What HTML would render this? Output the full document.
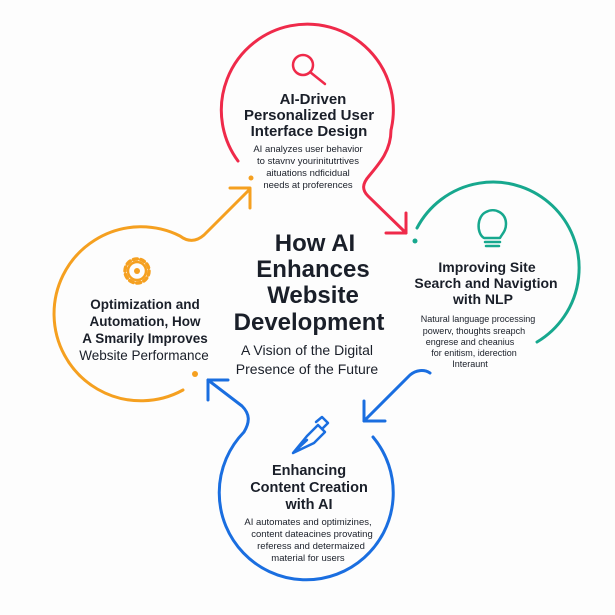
<!DOCTYPE html>
<html><head><meta charset="utf-8"><style>
body{margin:0;background:#fdfdfd;}
svg{display:block;font-family:"Liberation Sans","DejaVu Sans",sans-serif;}
</style></head><body>
<svg width="615" height="615" viewBox="0 0 615 615" xmlns="http://www.w3.org/2000/svg">
<rect width="615" height="615" fill="#fdfdfd"/>
<g fill="none" stroke-width="3" stroke-linecap="round" stroke-linejoin="round">
<!-- red -->
<path d="M238,161 A86,86 0 1 1 391,130 C391,150 380,163 369,176 C362,184 362,190 368,196 L406,233" stroke="#ef2a4a"/>
<path d="M406,213 L406,233 L386,233" stroke="#ef2a4a"/>
<!-- teal -->
<path d="M417,228 A86,86 0 1 1 537,342" stroke="#17a88e"/>
<circle cx="415" cy="241" r="2.5" fill="#17a88e" stroke="none"/>
<!-- blue bottom -->
<path d="M373,437 A87,87 0 1 1 244,432 C250,422 250,414 242,406 L208,380" stroke="#1a6ee0"/>
<path d="M228,380 L208,380 L208,400" stroke="#1a6ee0"/>
<!-- blue top-right arrow -->
<path d="M430,373 C424,369 416,370 410,375 L364,421" stroke="#1a6ee0"/>
<path d="M364,401 L364,421 L385,421" stroke="#1a6ee0"/>
<!-- orange -->
<path d="M183,390 A87,87 0 1 1 180,236 C188,242 196,242 204,235 L250,189" stroke="#f5a020"/>
<path d="M230,188 L250,188 L250,208" stroke="#f5a020"/>
<circle cx="251" cy="178" r="2.5" fill="#f5a020" stroke="none"/>
<circle cx="195" cy="374" r="3" fill="#f5a020" stroke="none"/>
<!-- icons -->
<circle cx="303" cy="65" r="10" stroke="#ef2a4a" stroke-width="2.5"/>
<path d="M310,72 L325,84" stroke="#ef2a4a" stroke-width="2.5"/>
<path d="M484,238 C476,233 477,216 486,212 C495,207 506,213 506,224 C506,231 502,234 500,238 Z" stroke="#17a88e" stroke-width="2.5"/>
<path d="M485,242 H500 M486,246 H499" stroke="#17a88e" stroke-width="2.5"/>
<circle cx="137" cy="271" r="12" stroke="#f5a020" stroke-width="3.5" stroke-dasharray="4 3.5"/>
<circle cx="137" cy="271" r="9" stroke="#f5a020" stroke-width="2.5"/>
<circle cx="137" cy="271" r="3" fill="#f5a020" stroke="none"/>
<path d="M293,453 L307,436 L318,425 L325,432 L314,443 Z M293,453 L307,440" stroke="#1a6ee0" stroke-width="2.5"/>
<path d="M316,422 L322,417 L328,423 L323,428" stroke="#1a6ee0" stroke-width="2.5"/>
</g>
<g fill="#1a1f29" text-anchor="middle">
<g font-size="15" font-weight="bold">
<text x="313" y="104">AI-Driven</text>
<text x="309" y="120">Personalized User</text>
<text x="309" y="136">Interface Design</text>
</g>
<g font-size="9.5">
<text x="308" y="152">AI analyzes user behavior</text>
<text x="308" y="164">to stavnv yourinitutrtives</text>
<text x="308" y="176">aituations ndficidual</text>
<text x="308" y="188">needs at proferences</text>
</g>
<g font-size="14" font-weight="bold">
<text x="487" y="272">Improving Site</text>
<text x="486" y="288">Search and Navigtion</text>
<text x="483" y="304">with NLP</text>
</g>
<g font-size="9">
<text x="478" y="322">Natural language processing</text>
<text x="474" y="334">powerv, thoughts sreарch</text>
<text x="470" y="345">engrese and cheanius</text>
<text x="474" y="356">for enitism, iderection</text>
<text x="470" y="367">Interaunt</text>
</g>
<g font-size="13.5" font-weight="bold">
<text x="145" y="309">Optimization and</text>
<text x="145" y="326">Automation, How</text>
<text x="145" y="343">A  Smarily Improves</text>
</g>
<text x="144" y="360" font-size="13.5">Website Performance</text>
<g font-size="24" font-weight="bold">
<text x="315" y="251">How AI</text>
<text x="313" y="277">Enhances</text>
<text x="313" y="303">Website</text>
<text x="309" y="330">Development</text>
</g>
<g font-size="14">
<text x="307" y="355">A Vision of the Digital</text>
<text x="307" y="374">Presence of the Future</text>
</g>
<g font-size="14.5" font-weight="bold">
<text x="309" y="475">Enhancing</text>
<text x="309" y="492">Content Creation</text>
<text x="309" y="509">with AI</text>
</g>
<g font-size="9.5">
<text x="308" y="525">AI automates and optimizines,</text>
<text x="312" y="537">content dateacines provating</text>
<text x="311" y="549">referess and determaized</text>
<text x="308" y="561">material for users</text>
</g>
</g>
</svg>
</body></html>
